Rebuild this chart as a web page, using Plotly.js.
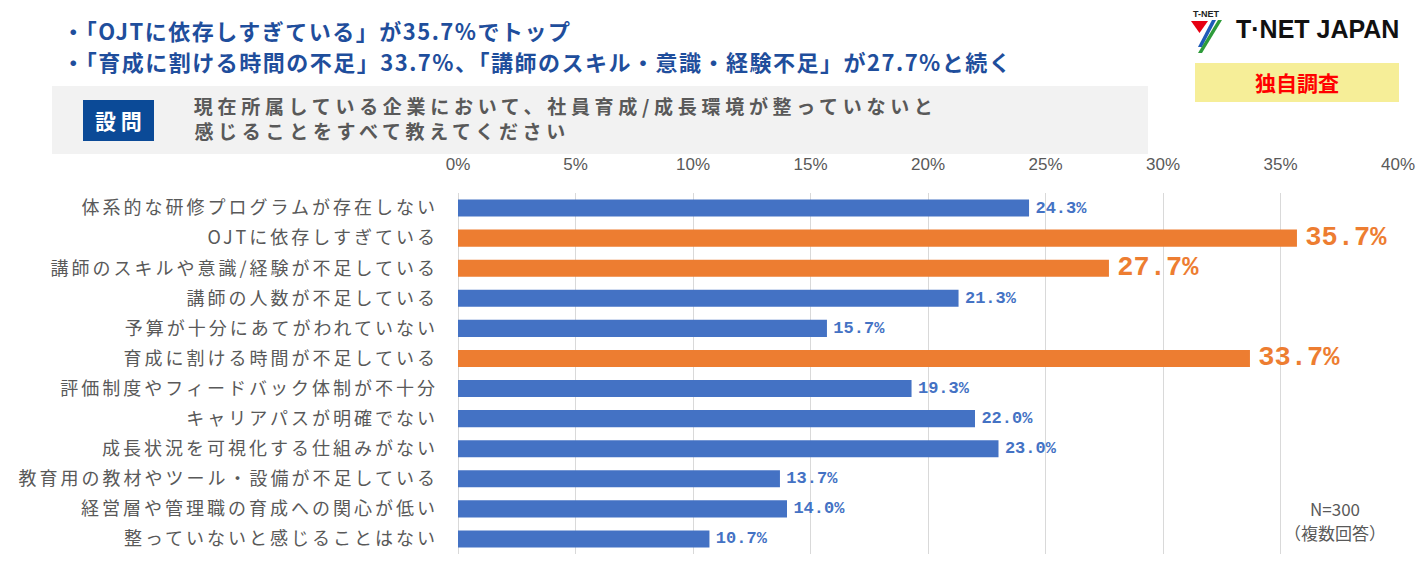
<!DOCTYPE html>
<html><head><meta charset="utf-8">
<script src="https://cdn.plot.ly/plotly-3.0.1.min.js"></script>
<style>
html,body{margin:0;padding:0;background:#fff;}
#chart .ytick text{letter-spacing:3px;}
#chart .annotation[data-index="0"] text,
#chart .annotation[data-index="1"] text{letter-spacing:1.5px;}
#chart .annotation[data-index="3"] text,
#chart .annotation[data-index="4"] text{letter-spacing:4.7px;}
</style>
</head><body>
<div id="chart" style="width:1422px;height:567px;"></div>
<script>
const categories = [
  "体系的な研修プログラムが存在しない",
  "OJTに依存しすぎている",
  "講師のスキルや意識/経験が不足している",
  "講師の人数が不足している",
  "予算が十分にあてがわれていない",
  "育成に割ける時間が不足している",
  "評価制度やフィードバック体制が不十分",
  "キャリアパスが明確でない",
  "成長状況を可視化する仕組みがない",
  "教育用の教材やツール・設備が不足している",
  "経営層や管理職の育成への関心が低い",
  "整っていないと感じることはない"
];
const values = [24.3, 35.7, 27.7, 21.3, 15.7, 33.7, 19.3, 22.0, 23.0, 13.7, 14.0, 10.7];
const highlighted = [false, true, true, false, false, true, false, false, false, false, false, false];
const tickValues = [0, 5, 10, 15, 20, 25, 30, 35, 40];
const tickLabels = ["0%", "5%", "10%", "15%", "20%", "25%", "30%", "35%", "40%"];
const bullet1 = "・「OJTに依存しすぎている」が35.7%でトップ";
const bullet2 = "・「育成に割ける時間の不足」33.7%、「講師のスキル・意識・経験不足」が27.7%と続く";
const questionLabel = "設 問";
const questionLine1 = "現在所属している企業において、社員育成/成長環境が整っていないと";
const questionLine2 = "感じることをすべて教えてください";
const sampleN = "N=300";
const sampleNote = "（複数回答）";
const badgeText = "独自調査";

const BLUE = "#4472C4", ORANGE = "#ED7D31";
const W = 1422, H = 567, ML = 458, MR = 24, MT = 193, MB = 13;
const PW = W - ML - MR, PH = H - MT - MB;
const px = x => (x - ML) / PW;
const py = y => 1 - (y - MT) / PH;
// letter-spacing (CSS) widens the text around its measured centre; shift to keep left edge
const spaced = (x, text, sp) => x + Array.from(text).length * sp / 2;

const barColors = highlighted.map(h => h ? ORANGE : BLUE);
const labelSizes = highlighted.map(h => h ? 27 : 17);
const labelText = values.map(v => "\u2009" + v.toFixed(1) + "%");

const trace = {
  type: "bar", orientation: "h",
  y: categories, x: values,
  marker: {color: barColors},
  text: labelText, textposition: "outside", cliponaxis: false,
  constraintext: "none",
  textfont: {family: "Liberation Mono, DejaVu Sans Mono, monospace", size: labelSizes, color: barColors, weight: "bold"},
  hoverinfo: "skip"
};

function rect(x0, y0, x1, y1, color, layer) {
  return {type: "rect", xref: "paper", yref: "paper", x0: px(x0), x1: px(x1), y0: py(y1), y1: py(y0),
    fillcolor: color, line: {width: 0}, layer: layer || "below"};
}
function poly(pts, color) {
  const d = "M" + pts.map(p => px(p[0]) + "," + py(p[1])).join("L") + "Z";
  return {type: "path", xref: "paper", yref: "paper", path: d, fillcolor: color, line: {width: 0}, layer: "above"};
}

const shapes = [
  rect(52, 86, 1148, 154, "#F2F2F2"),
  rect(83, 100, 154, 141, "#0B4A97", "above"),
  rect(1195, 63, 1399, 102, "#F6EE98"),
  poly([[1191, 21], [1208, 21], [1199.5, 33]], "#E60012"),
  poly([[1212, 20], [1216, 20], [1202, 47], [1198, 47]], "#1E5BB8"),
  poly([[1218, 20], [1222, 20], [1202, 53], [1198, 53]], "#2E9B3A")
];

const ann = (x, y, text, font, xanchor, extra) => Object.assign({
  xref: "paper", yref: "paper", x: px(x), y: py(y), text: text, showarrow: false,
  xanchor: xanchor || "left", yanchor: "middle", font: font
}, extra || {});

const CJK = "Noto Sans CJK JP, sans-serif";
const annotations = [
  ann(spaced(60, bullet1, 1.5), 30, bullet1, {family: CJK, size: 22, color: "#1F4E9C", weight: "bold"}),
  ann(spaced(60, bullet2, 1.5), 61, bullet2, {family: CJK, size: 22, color: "#1F4E9C", weight: "bold"}),
  ann(118.5, 120, questionLabel, {family: CJK, size: 21, color: "#FFFFFF", weight: "bold"}, "center"),
  ann(spaced(192, questionLine1, 4.7), 105, questionLine1, {family: CJK, size: 19, color: "#595959", weight: "bold"}, "left"),
  ann(spaced(192, questionLine2, 4.7), 130, questionLine2, {family: CJK, size: 19, color: "#595959", weight: "bold"}, "left"),
  ann(1297, 82, badgeText, {family: CJK, size: 21, color: "#FF0000", weight: "bold"}, "center"),
  ann(1206, 14, "T-NET", {family: "Liberation Sans, sans-serif", size: 9, color: "#222", weight: "bold"}, "center"),
  ann(1234, 29, "T·NET JAPAN", {family: "Liberation Sans, sans-serif", size: 25, color: "#111", weight: "bold"}, "left"),
  ann(1335, 508, sampleN, {family: CJK, size: 17, color: "#595959"}, "center"),
  ann(1335, 532, sampleNote, {family: CJK, size: 17, color: "#595959"}, "center")
];

const layout = {
  width: W, height: H,
  margin: {l: ML, r: MR, t: MT, b: MB},
  paper_bgcolor: "#fff", plot_bgcolor: "#fff",
  showlegend: false,
  bargap: 0.43,
  xaxis: {
    side: "top", range: [0, 40], tickvals: tickValues, ticktext: tickLabels,
    showgrid: true, gridcolor: "#D9D9D9", gridwidth: 1,
    zeroline: true, zerolinecolor: "#D9D9D9", showline: false, ticks: "",
    ticklabelstandoff: 19,
    tickfont: {family: "Liberation Sans Narrow, Liberation Sans, sans-serif", size: 17, color: "#595959"},
    fixedrange: true
  },
  yaxis: {
    autorange: "reversed", type: "category", showgrid: false, zeroline: false, showline: false,
    ticks: "", ticklabelstandoff: 19,
    tickfont: {family: CJK, size: 18, color: "#595959"},
    fixedrange: true
  },
  shapes: shapes,
  annotations: annotations
};

Plotly.newPlot("chart", [trace], layout, {displayModeBar: false, staticPlot: true});
</script>
</body></html>
